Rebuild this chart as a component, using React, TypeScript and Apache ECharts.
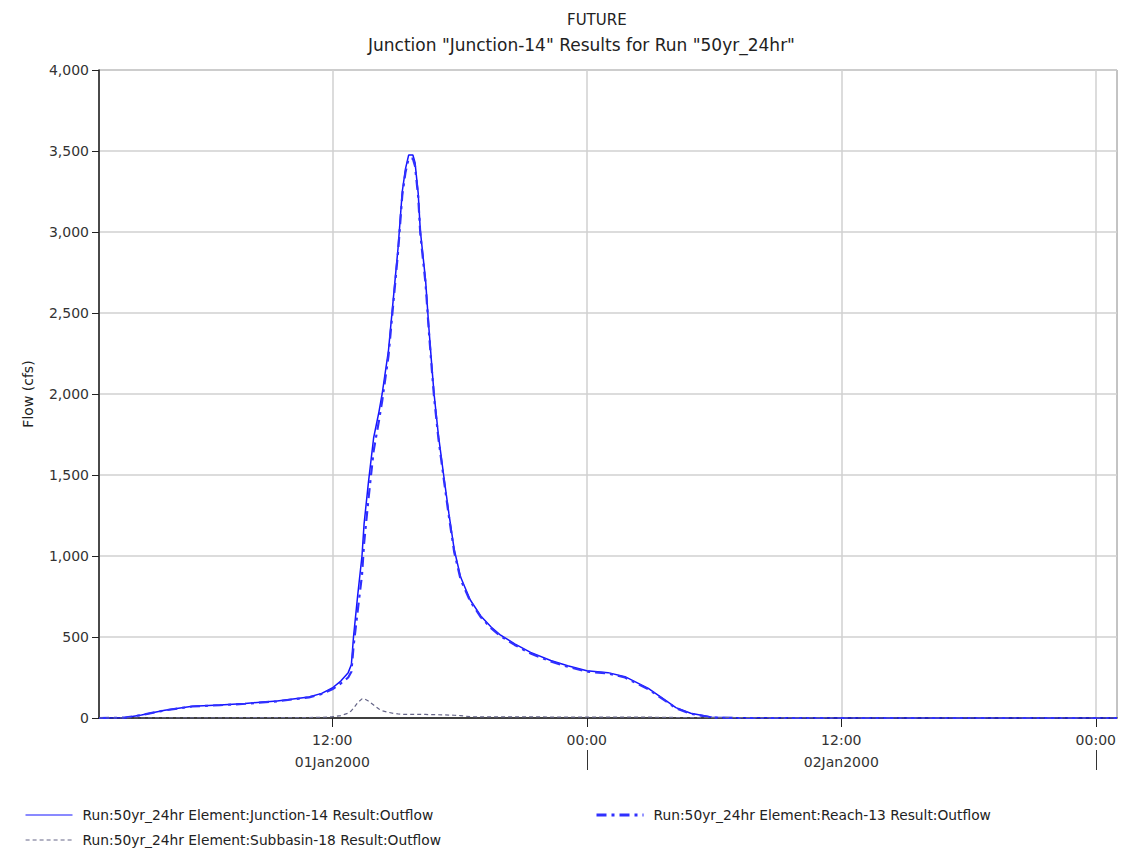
import React, { useEffect, useRef } from "react";
import * as echarts from "echarts";

// hours since 01Jan2000 00:00
const hours = [
  1, 2.2, 3, 4.1, 5.4, 6.7, 7.9, 9.4, 10.9, 11.5,
  12, 12.4, 12.75, 12.9, 13.0, 13.2, 13.4, 13.5, 13.7, 13.95,
  14.2, 14.35, 14.65, 14.9, 15.1, 15.3, 15.45, 15.6, 15.8, 15.9,
  16.05, 16.15, 16.4, 16.55, 16.7, 16.8, 17.0, 17.25, 17.5, 17.75,
  18.05, 18.5, 19.0, 19.5, 19.9, 20.6, 21.35, 22.3, 23.1, 24.0,
  25.0, 25.8, 26.9, 27.8, 28.2, 28.9, 29.9, 31, 33.6, 36,
  49,
];

const junction14 = [
  0, 2, 18, 48, 72, 80, 90, 105, 130, 152,
  185, 228, 280, 330, 500, 760, 1000, 1200, 1450, 1730,
  1890, 2000, 2270, 2620, 2900, 3250, 3390, 3475, 3475, 3430,
  3240, 3010, 2700, 2415, 2160, 2000, 1750, 1500, 1260, 1040,
  870, 730, 630, 560, 515, 458, 405, 355, 322, 292,
  280, 255, 183, 101, 64, 29, 5, 2, 1, 0,
  0,
];

const reach13 = [
  0, 2, 18, 47, 71, 79, 88, 103, 127, 148,
  177, 213, 250, 285, 440, 665, 882, 1080, 1345, 1650,
  1835, 1955, 2235, 2592, 2875, 3227, 3368, 3453, 3453, 3408,
  3218, 2988, 2678, 2394, 2139, 1979, 1730, 1481, 1242, 1023,
  855, 722, 623, 553, 508, 451, 398, 349, 316, 286,
  275, 250, 178, 97, 61, 26, 3, 0, 0, 0,
  0,
];

const subbasin18 = [
  0, 0, 0, 1, 1, 1, 2, 2, 3, 4,
  8, 15, 30, 45, 60, 95, 118, 120, 105, 80,
  55, 45, 35, 28, 25, 23, 22, 22, 22, 22,
  22, 22, 22, 21, 21, 21, 20, 19, 18, 17,
  15, 8, 7, 7, 7, 7, 7, 6, 6, 6,
  5, 5, 5, 4, 3, 3, 2, 2, 1, 0,
  0,
];

const timeTicks = [12, 24, 36, 48];
const timeLabels: Record<number, string> = { 12: "12:00", 24: "00:00", 36: "12:00", 48: "00:00" };
const dayTicks = [24, 48];
const dayLabelPos = [12, 36];
const dayLabels: Record<number, string> = { 12: "01Jan2000", 36: "02Jan2000" };

const titleMain = "FUTURE";
const titleSub = 'Junction "Junction-14" Results for Run "50yr_24hr"';
const yName = "Flow (cfs)";
const nameJunction = "Run:50yr_24hr Element:Junction-14 Result:Outflow";
const nameReach = "Run:50yr_24hr Element:Reach-13 Result:Outflow";
const nameSub = "Run:50yr_24hr Element:Subbasin-18 Result:Outflow";

const FONT = "'DejaVu Sans', 'Liberation Sans', Arial, sans-serif";

function pairs(vals: number[]) {
  return hours.map((h, i) => [h, vals[i]]);
}

export default function App() {
  const ref = useRef<HTMLDivElement>(null);
  useEffect(() => {
    if (!ref.current) return;
    const chart = echarts.init(ref.current, undefined, { renderer: "svg" });
    const legendText = { fontFamily: FONT, fontSize: 13.8, color: "#222", padding: [0, 0, 0, 5] };
    const legendCommon = { itemWidth: 47, itemHeight: 14, textStyle: legendText, itemStyle: { opacity: 0 } };
    chart.setOption({
      animation: false,
      backgroundColor: "#fff",
      textStyle: { fontFamily: FONT },
      title: [
        { text: titleMain, left: 562, top: 7, textStyle: { fontFamily: FONT, fontSize: 15, fontWeight: "normal", color: "#222" } },
        { text: titleSub, left: 363, top: 31, textStyle: { fontFamily: FONT, fontSize: 17, fontWeight: "normal", color: "#222" } },
      ],
      grid: { left: 99, right: 22, top: 70, bottom: 131, show: true, borderColor: "#888", borderWidth: 1, backgroundColor: "#fff" },
      legend: [
        { ...legendCommon, left: 20, top: 803, data: [nameJunction], lineStyle: { width: 1 } },
        { ...legendCommon, left: 590, top: 803, data: [nameReach], lineStyle: { width: 3 } },
        { ...legendCommon, left: 20, top: 828, data: [nameSub], lineStyle: { width: 1.2 } },
      ],
      xAxis: [
        {
          type: "value",
          min: 1,
          max: 49,
          axisLine: { show: true, lineStyle: { color: "#111", width: 1.5 } },
          axisTick: { show: true, customValues: timeTicks, length: 9, lineStyle: { color: "#222" } },
          axisLabel: {
            customValues: timeTicks,
            margin: 15,
            fontSize: 14,
            color: "#333",
            fontFamily: FONT,
            formatter: (v: number) => timeLabels[Math.round(v)] ?? "",
          },
          splitLine: { show: true, lineStyle: { color: "#d0d0d0", width: 1.5 } },
        },
        {
          type: "value",
          position: "bottom",
          offset: 32,
          min: 1,
          max: 49,
          axisLine: { show: false },
          axisTick: { show: true, customValues: dayTicks, length: 20, lineStyle: { color: "#333" } },
          axisLabel: {
            customValues: dayLabelPos,
            margin: 5,
            fontSize: 14,
            color: "#333",
            fontFamily: FONT,
            formatter: (v: number) => dayLabels[Math.round(v)] ?? "",
          },
          splitLine: { show: false },
        },
      ],
      yAxis: {
        type: "value",
        min: 0,
        max: 4000,
        interval: 500,
        name: yName,
        nameLocation: "middle",
        nameGap: 64,
        nameTextStyle: { fontFamily: FONT, fontSize: 14, color: "#222" },
        axisLine: { show: true, lineStyle: { color: "#222", width: 1.5 } },
        axisTick: { show: true, length: 7, lineStyle: { color: "#222" } },
        axisLabel: {
          margin: 10,
          fontSize: 14,
          color: "#333",
          fontFamily: FONT,
          formatter: (v: number) => v.toLocaleString("en-US"),
        },
        splitLine: { show: true, lineStyle: { color: "#d0d0d0", width: 1.5 } },
      },
      series: [
        {
          name: nameJunction,
          type: "line",
          xAxisIndex: 0,
          data: pairs(junction14),
          symbol: "none",
          lineStyle: { color: "#1515ff", width: 1.5 },
          itemStyle: { color: "#1515ff" },
        },
        {
          name: nameReach,
          type: "line",
          xAxisIndex: 0,
          data: pairs(reach13),
          symbol: "none",
          lineStyle: { color: "#3030ff", width: 2.2, type: [10, 5, 3, 5] },
          itemStyle: { color: "#3030ff" },
        },
        {
          name: nameSub,
          type: "line",
          xAxisIndex: 0,
          data: pairs(subbasin18),
          symbol: "none",
          lineStyle: { color: "#666688", width: 1.2, type: [4, 3] },
          itemStyle: { color: "#666688" },
        },
      ],
    });
    return () => chart.dispose();
  }, []);
  return <div ref={ref} style={{ position: "fixed", left: 0, top: 0, width: 1139, height: 849 }} />;
}
